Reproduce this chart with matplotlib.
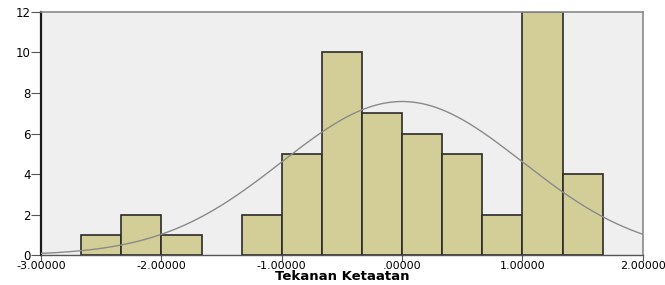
import numpy as np
import matplotlib.pyplot as plt

# histogram data (bin edges and counts)
bin_edges = [-2.6667, -2.3333, -2.0, -1.6667, -1.3333, -1.0, -0.6667, -0.3333,
             0.0, 0.3333, 0.6667, 1.0, 1.3333, 1.6667]
counts = [1, 2, 1, 0, 2, 5, 10, 7, 6, 5, 2, 12, 4]
x_ticks = [-3, -2, -1, 0, 1, 2]
x_labels = ['-3.00000', '-2.00000', '-1.00000', '.00000', '1.00000', '2.00000']
y_ticks = [0, 2, 4, 6, 8, 10, 12]

# fitted normal curve parameters
mean = 0.0
sd = 1.0

plt.rcParams['font.family'] = ['DejaVu Sans']

fig = plt.figure(figsize=(6.65, 2.85), dpi=100)
ax = fig.add_axes([0.0617, 0.105, 0.905, 0.853])
ax.set_facecolor('#efefef')

edges = np.array(bin_edges)
widths = np.diff(edges)
for left, w, c in zip(edges[:-1], widths, counts):
    if c > 0:
        ax.bar(left, c, width=w, align='edge', color='#d3ce97',
               edgecolor='#2b2b2b', linewidth=1.2, zorder=2)

n = sum(counts)
bw = widths.mean()
xs = np.linspace(-3, 2, 400)
ys = n * bw / (sd * np.sqrt(2 * np.pi)) * np.exp(-0.5 * ((xs - mean) / sd) ** 2)
ax.plot(xs, ys, color='#8a8a8a', linewidth=1.0, zorder=3)

ax.set_xlim(-3, 2)
ax.set_ylim(0, 12)
ax.set_xticks(x_ticks)
ax.set_xticklabels(x_labels)
ax.set_yticks(y_ticks)
ax.tick_params(axis='x', labelsize=8, length=4, width=0.8, color='#555555', pad=0)
ax.tick_params(axis='y', labelsize=8.5, length=7, width=0.8, color='#555555', pad=0.5)

for s in ['top', 'right']:
    ax.spines[s].set_color('#8a8a8a')
    ax.spines[s].set_linewidth(1.2)
ax.spines['left'].set_color('#1a1a1a')
ax.spines['left'].set_linewidth(1.6)
ax.spines['bottom'].set_color('#555555')
ax.spines['bottom'].set_linewidth(1.0)

ax.set_xlabel('Tekanan Ketaatan', fontsize=9.5, fontweight='bold', labelpad=-0.5)

fig.savefig('out.png', dpi=100)
